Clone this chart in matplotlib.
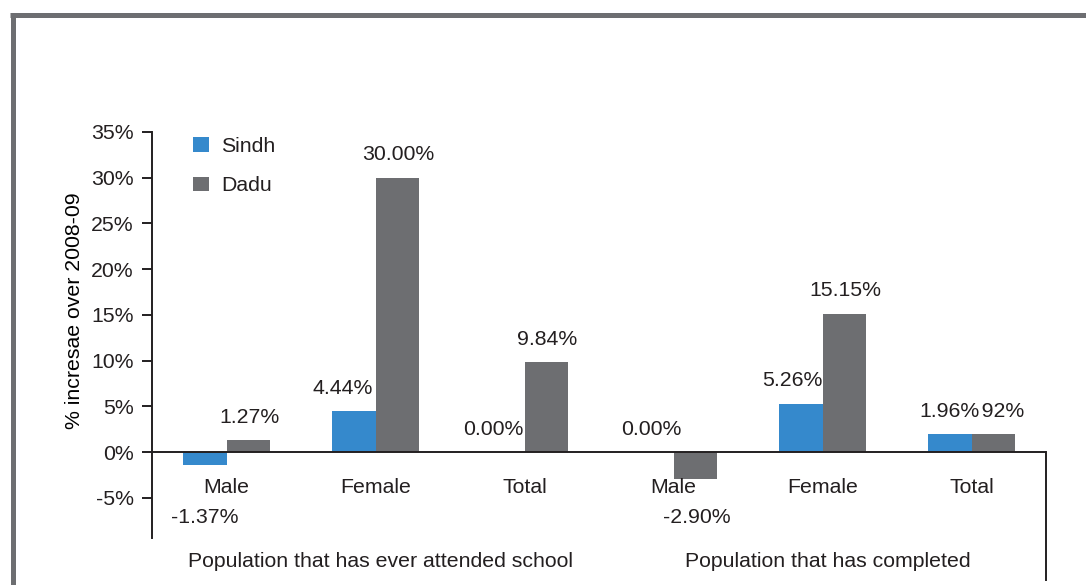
import matplotlib
matplotlib.use('Agg')
import matplotlib.pyplot as plt
from matplotlib.lines import Line2D
from matplotlib.patches import Patch
import numpy as np

# percentage change over 2008-09, by category
categories = ['Male', 'Female', 'Total', 'Male', 'Female', 'Total']
groups = ['Population that has ever attended school', 'Population that has completed']
sindh = [-1.37, 4.44, 0.00, 0.00, 5.26, 1.96]
dadu = [1.27, 30.00, 9.84, -2.90, 15.15, 1.92]
yticks = [-5, 0, 5, 10, 15, 20, 25, 30, 35]

# sideways nudge (pixels) for the Sindh value labels
sindh_nudge = [0, -11, -9, 0, -8, 0]

BLUE = '#3589cc'
GREY = '#6d6e71'
INK = '#231f20'
W, H = 1086, 585

plt.rcParams['font.family'] = ['Liberation Sans', 'DejaVu Sans']
plt.rcParams['font.size'] = 15.3
plt.rcParams['text.color'] = INK

fig = plt.figure(figsize=(W / 100, H / 100), dpi=100)
ax = fig.add_axes([152 / W, 1 - 538 / H, (1046 - 152) / W, (538 - 132) / H])

x = np.arange(len(categories))
bw = 0.295
ax.bar(x - bw / 2, sindh, bw, color=BLUE, zorder=2)
ax.bar(x + bw / 2, dadu, bw, color=GREY, zorder=2)

ax.set_xlim(-0.5, len(categories) - 0.5)
ax.set_ylim(-9.4, 35)
ax.set_yticks(yticks)
ax.set_yticklabels([f'{t}%' for t in yticks])
ax.set_xticks([])
ax.tick_params(axis='y', direction='out', length=7, width=1.4, color=INK,
               labelcolor=INK, pad=6)
for side in ['top', 'right', 'bottom']:
    ax.spines[side].set_visible(False)
ax.spines['left'].set_color(INK)
ax.spines['left'].set_linewidth(1.4)

# zero line and the closing divider on the right
ax.axhline(0, color=INK, lw=1.4, zorder=3)
ax.plot([len(categories) - 0.5] * 2, [0, -14], color=INK, lw=1.4,
        clip_on=False, zorder=3)

ax.set_ylabel('% incresae over 2008-09')
ax.yaxis.set_label_coords((84 - 152) / (1046 - 152), (538 - 311) / (538 - 132))


def value_label(xpos, val, dx, **kw):
    if val < 0:
        ax.annotate(f'{val:.2f}%', (xpos, 0), xytext=(dx, -65),
                    textcoords='offset pixels', ha='center', va='center',
                    annotation_clip=False, **kw)
    else:
        ax.annotate(f'{val:.2f}%', (xpos, val), xytext=(dx, 23),
                    textcoords='offset pixels', ha='center', va='center',
                    annotation_clip=False, **kw)


for i in range(len(categories)):
    value_label(x[i] + bw / 2, dadu[i], 1, zorder=4)
    value_label(x[i] - bw / 2, sindh[i], sindh_nudge[i], zorder=5,
                bbox=dict(facecolor='white', edgecolor='none', pad=0))
    ax.annotate(categories[i], (x[i], 0), xytext=(0, -35),
                textcoords='offset pixels', ha='center', va='center',
                annotation_clip=False)

for g, name in enumerate(groups):
    ax.annotate(name, (3 * g + 1, 0), xytext=(5, -109),
                textcoords='offset pixels', ha='center', va='center',
                annotation_clip=False)

handles = [Patch(facecolor=BLUE, edgecolor='none', label='Sindh'),
           Patch(facecolor=GREY, edgecolor='none', label='Dadu')]
fig.legend(handles=handles, loc='upper left',
           bbox_to_anchor=(193 / W, 1 - 137 / H), frameon=False,
           handlelength=0.76, handleheight=0.66, handletextpad=0.55,
           labelspacing=0.95, borderpad=0, borderaxespad=0)

# grey frame along the top and left edges
fig.add_artist(Line2D([10 / W, 1], [1 - 15 / H, 1 - 15 / H], color=GREY,
                      lw=3.6, solid_capstyle='butt'))
fig.add_artist(Line2D([12.5 / W, 12.5 / W], [1 - 13 / H, 0], color=GREY,
                      lw=3.6, solid_capstyle='butt'))

fig.savefig('out.png', dpi=100)
